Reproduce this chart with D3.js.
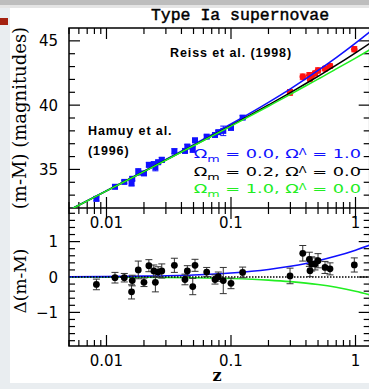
<!DOCTYPE html>
<html>
<head>
<meta charset="utf-8">
<script src="https://cdn.jsdelivr.net/npm/d3@7"></script>
<style>
  body { margin: 0; background: #fff; }
  svg { display: block; }
</style>
</head>
<body>
<div id="chart"></div>
<script>
// Hamuy et al. (1996) low-z sample
const hamuyZ = [0.0083, 0.0117, 0.0139, 0.0161, 0.0159, 0.018, 0.020, 0.0219, 0.024, 0.0247, 0.026, 0.0278,
    0.0351, 0.0427, 0.0446, 0.0493, 0.0514, 0.0638, 0.0744, 0.0791, 0.0867, 0.100, 0.124];
const hamuyMu = [32.71, 33.65, 34.03, 34.27, 33.92, 34.81, 34.69, 35.36, 35.41, 35.16, 35.56, 35.74,
    36.41, 36.44, 36.78, 36.56, 37.26, 37.55, 37.68, 37.90, 38.00, 38.23, 39.03];
const hamuyErr = [0.15, 0.15, 0.12, 0.15, 0.2, 0.25, 0.12, 0.17, 0.17, 0.27, 0.15, 0.2,
    0.2, 0.15, 0.15, 0.23, 0.17, 0.13, 0.13, 0.13, 0.37, 0.15, 0.15];

// Riess et al. (1998) high-z sample
const riessZ = [0.298, 0.377, 0.426, 0.431, 0.445, 0.473, 0.50, 0.569, 0.624, 0.978];
const riessMu = [40.99, 42.20, 42.33, 42.04, 42.31, 42.47, 42.70, 42.84, 43.04, 44.35];
const riessErr = [0.22, 0.22, 0.2, 0.17, 0.2, 0.17, 0.2, 0.17, 0.17, 0.2];

// residuals against the open model, same order as above
const residDm = [-0.21, -0.02, -0.02, -0.10, -0.42, 0.20, -0.15, 0.32, 0.17, -0.15, 0.14, 0.17,
    0.33, -0.07, 0.17, -0.27, 0.33, 0.14, -0.07, 0.01, -0.10, -0.18, 0.13,
    0.03, 0.67, 0.50, 0.18, 0.37, 0.37, 0.46, 0.27, 0.23, 0.34];

// model curves
const modelZ = [0.005, 0.01, 0.02, 0.05, 0.1, 0.2, 0.3, 0.4, 0.5, 0.7, 1.0, 1.3];
const muLambda = [31.83, 33.34, 34.86, 36.92, 38.53, 40.22, 41.27, 42.06, 42.70, 43.70, 44.83, 45.70];
const muOpen = [31.82, 33.33, 34.84, 36.86, 38.41, 40.01, 40.97, 41.68, 42.24, 43.11, 44.07, 44.80];
const muFlat = [31.82, 33.33, 34.83, 36.84, 38.37, 39.92, 40.84, 41.51, 42.02, 42.82, 43.66, 44.30];
const dmLambda = [0.006, 0.012, 0.024, 0.058, 0.112, 0.212, 0.302, 0.384, 0.459, 0.591, 0.759, 0.900];
const dmFlat = [-0.002, -0.004, -0.009, -0.022, -0.044, -0.087, -0.130, -0.172, -0.213, -0.292, -0.402, -0.503];

const legendRows = [
    { om: "0.0", ol: "1.0", color: "#1010ff" },
    { om: "0.2", ol: "0.0", color: "#000" },
    { om: "1.0", ol: "0.0", color: "#22ee22" }
];

const W = 369, H = 389;
const padL = 69, padR = 369.7, topY = 28, midY = 208, botY = 346;

const svg = d3.select("#chart").append("svg")
    .attr("width", W)
    .attr("height", H);

// slide decorations around the picture
svg.append("rect").attr("width", W).attr("height", H).attr("fill", "#fff");
svg.append("rect").attr("x", 0).attr("y", 0).attr("width", W).attr("height", 5).attr("fill", "#bdbdbd");
svg.append("rect").attr("x", 0).attr("y", 5).attr("width", W).attr("height", 3).attr("fill", "#e4e4e4");
svg.append("rect").attr("x", 0).attr("y", 8).attr("width", 10).attr("height", H - 8).attr("fill", "#e9edf0");
svg.append("rect").attr("x", 0).attr("y", 18).attr("width", 8).attr("height", 7).attr("fill", "#a3200f");
svg.append("rect").attr("x", 0).attr("y", 383).attr("width", W).attr("height", 6).attr("fill", "#e9edf0");

const x = d3.scaleLog().domain([0.005, 1.3]).range([padL, padR]);
const yTop = d3.scaleLinear().domain([32, 46]).range([midY, topY]);
const yBot = d3.scaleLinear().domain([-1.95, 1.95]).range([botY, midY]);

const defs = svg.append("defs");
defs.append("clipPath").attr("id", "clipTop")
    .append("rect").attr("x", padL).attr("y", topY).attr("width", padR - padL).attr("height", midY - topY);
defs.append("clipPath").attr("id", "clipBot")
    .append("rect").attr("x", padL).attr("y", midY).attr("width", padR - padL).attr("height", botY - midY);

// ---- ticks
const xMinor = x.ticks().filter(d => d >= 0.005 && d <= 1.3);
const xMajor = [0.01, 0.1, 1];
const isMajorX = d => xMajor.some(m => Math.abs(m - d) / m < 1e-6);

const tickG = svg.append("g").attr("stroke", "#000").attr("stroke-width", 1.2);

function xTicks(y0, dir) {
    tickG.selectAll(null)
        .data(xMinor)
        .enter().append("line")
        .attr("x1", d => x(d)).attr("x2", d => x(d))
        .attr("y1", y0)
        .attr("y2", d => y0 + dir * (isMajorX(d) ? 11 : 6));
}
xTicks(topY, 1);
xTicks(midY, -1);
xTicks(midY, 1);
xTicks(botY, -1);

function yTicks(scale, minor, major) {
    const isMajor = d => major.some(m => Math.abs(m - d) < 1e-6);
    [[padL, 1], [padR, -1]].forEach(([x0, dir]) => {
        tickG.selectAll(null)
            .data(minor)
            .enter().append("line")
            .attr("y1", d => scale(d)).attr("y2", d => scale(d))
            .attr("x1", x0)
            .attr("x2", d => x0 + dir * (isMajor(d) ? 11 : 6));
    });
}
yTicks(yTop, d3.range(33, 46, 1), [35, 40, 45]);
yTicks(yBot, d3.range(-18, 19, 2).map(d => d / 10), [-1, 0, 1]);

// frame
const frame = svg.append("g").attr("stroke", "#000").attr("stroke-width", 1.5).attr("fill", "none");
frame.append("rect").attr("x", padL).attr("y", topY).attr("width", padR - padL).attr("height", botY - topY);
frame.append("line").attr("x1", padL).attr("x2", padR).attr("y1", midY).attr("y2", midY);

// ---- tick labels
const fmtZ = d => d === 1 ? "1" : String(d);
const labelFont = "'DejaVu Sans', sans-serif";

svg.append("g").selectAll("text")
    .data(xMajor)
    .enter().append("text")
    .attr("x", d => x(d)).attr("y", 228)
    .attr("text-anchor", "middle")
    .attr("font-family", labelFont).attr("font-size", 15)
    .text(fmtZ);

svg.append("g").selectAll("text")
    .data(xMajor)
    .enter().append("text")
    .attr("x", d => x(d)).attr("y", 366)
    .attr("text-anchor", "middle")
    .attr("font-family", labelFont).attr("font-size", 15)
    .text(fmtZ);

svg.append("g").selectAll("text")
    .data([35, 40, 45])
    .enter().append("text")
    .attr("x", 58).attr("y", d => yTop(d) + 5.5)
    .attr("text-anchor", "end")
    .attr("font-family", labelFont).attr("font-size", 15)
    .text(d => d);

svg.append("g").selectAll("text")
    .data([-1, 0, 1])
    .enter().append("text")
    .attr("x", 58).attr("y", d => yBot(d) + 5.5)
    .attr("text-anchor", "end")
    .attr("font-family", labelFont).attr("font-size", 15)
    .text(d => d < 0 ? "\u2212" + Math.abs(d) : d);

// ---- axis titles
svg.append("text")
    .attr("x", 240).attr("y", 20)
    .attr("text-anchor", "middle")
    .attr("font-family", "'Liberation Mono', monospace")
    .attr("font-size", 16.5)
    .attr("stroke", "#000").attr("stroke-width", 0.45)
    .text("Type Ia supernovae");

svg.append("text")
    .attr("transform", "translate(26,118) rotate(-90)")
    .attr("text-anchor", "middle")
    .attr("font-family", "'DejaVu Serif', serif")
    .attr("font-size", 18)
    .text("(m-M) (magnitudes)");

svg.append("text")
    .attr("transform", "translate(26,281) rotate(-90)")
    .attr("text-anchor", "middle")
    .attr("font-family", "'DejaVu Serif', serif")
    .attr("font-size", 17)
    .text("\u0394(m-M)");

svg.append("text")
    .attr("x", 217).attr("y", 381)
    .attr("text-anchor", "middle")
    .attr("font-family", "'DejaVu Serif', serif")
    .attr("font-weight", "bold")
    .attr("font-size", 16)
    .text("z");

// ---- annotations
const noteFont = "'Liberation Sans', Arial, sans-serif";
function note(txt, px, py, anchor) {
    svg.append("text")
        .attr("x", px).attr("y", py)
        .attr("text-anchor", anchor)
        .attr("font-family", noteFont).attr("font-weight", "bold").attr("font-size", 12.5)
        .attr("letter-spacing", 0.9)
        .text(txt);
}
note("Reiss et al. (1998)", 231, 57, "middle");
note("Hamuy et al.", 88, 135, "start");
note("(1996)", 88, 155, "start");

// ---- top panel
const topPanel = svg.append("g").attr("clip-path", "url(#clipTop)");
const lineTop = d3.line().x(d => x(d[0])).y(d => yTop(d[1])).curve(d3.curveMonotoneX);

function errBars(g, zs, vs, es, scale, color, cap) {
    g.selectAll(null)
        .data(d3.zip(zs, vs, es))
        .enter().append("path")
        .attr("d", d => {
            const px = x(d[0]), y1 = scale(d[1] - d[2]), y2 = scale(d[1] + d[2]);
            return `M${px},${y1}V${y2}M${px - cap},${y1}H${px + cap}M${px - cap},${y2}H${px + cap}`;
        })
        .attr("fill", "none")
        .attr("stroke", color)
        .attr("stroke-width", 1);
}

errBars(topPanel, hamuyZ, hamuyMu, hamuyErr, yTop, "#1010ff", 3);
topPanel.selectAll(null)
    .data(d3.zip(hamuyZ, hamuyMu))
    .enter().append("rect")
    .attr("x", d => x(d[0]) - 3).attr("y", d => yTop(d[1]) - 3)
    .attr("width", 6).attr("height", 6)
    .attr("fill", "#1010ff");

errBars(topPanel, riessZ, riessMu, riessErr, yTop, "#ff1010", 3);
topPanel.selectAll(null)
    .data(d3.zip(riessZ, riessMu))
    .enter().append("circle")
    .attr("cx", d => x(d[0])).attr("cy", d => yTop(d[1]))
    .attr("r", 3.3)
    .attr("fill", "#ff1010");

// model lines drawn over the points, green last as in the original
[[muLambda, "#1010ff"], [muOpen, "#000"], [muFlat, "#22ee22"]].forEach(([mu, c]) => {
    topPanel.append("path")
        .datum(d3.zip(modelZ, mu))
        .attr("d", lineTop)
        .attr("fill", "none")
        .attr("stroke", c)
        .attr("stroke-width", 1.6);
});

// legend: short, wide lettering like the plotting package's stroke font
const legend = svg.append("g")
    .attr("font-family", "'DejaVu Sans', sans-serif")
    .attr("font-size", 12.5);
legendRows.forEach((r, i) => {
    const t = legend.append("text")
        .attr("transform", `translate(361,${158 + i * 17.5}) scale(1.42,1)`)
        .attr("text-anchor", "end")
        .attr("fill", r.color);
    t.append("tspan").text("\u03a9");
    t.append("tspan").attr("font-size", 9).attr("dy", 4).text("m");
    t.append("tspan").attr("dy", -4).text(" = " + r.om + ",  \u03a9");
    t.append("tspan").attr("font-size", 8).attr("dy", -3).text("\u039b");
    t.append("tspan").attr("dy", 3).text(" = " + r.ol);
});

// ---- bottom panel
const botPanel = svg.append("g").attr("clip-path", "url(#clipBot)");
const lineBot = d3.line().x(d => x(d[0])).y(d => yBot(d[1])).curve(d3.curveMonotoneX);

botPanel.append("path")
    .datum(d3.zip(modelZ, dmFlat))
    .attr("d", lineBot)
    .attr("fill", "none").attr("stroke", "#22ee22").attr("stroke-width", 1.6);
botPanel.append("path")
    .datum(d3.zip(modelZ, dmLambda))
    .attr("d", lineBot)
    .attr("fill", "none").attr("stroke", "#1010ff").attr("stroke-width", 1.6);
botPanel.append("line")
    .attr("x1", padL).attr("x2", padR)
    .attr("y1", yBot(0)).attr("y2", yBot(0))
    .attr("stroke", "#000").attr("stroke-width", 1.5)
    .attr("stroke-dasharray", "1.5,1.5");

const residZ = hamuyZ.concat(riessZ);
const residErr = hamuyErr.concat(riessErr);
errBars(botPanel, residZ, residDm, residErr, yBot, "#333", 3.5);
botPanel.selectAll(null)
    .data(d3.zip(residZ, residDm))
    .enter().append("circle")
    .attr("cx", d => x(d[0])).attr("cy", d => yBot(d[1]))
    .attr("r", 3.4)
    .attr("fill", "#000");
</script>
</body>
</html>
